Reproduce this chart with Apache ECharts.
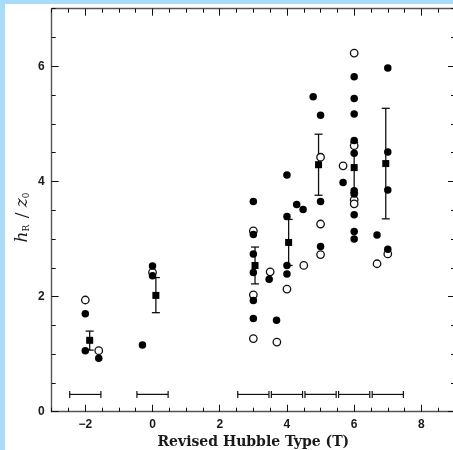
<!DOCTYPE html>
<html>
<head>
<meta charset="utf-8">
<script src="https://cdn.jsdelivr.net/npm/echarts@6/dist/echarts.min.js"></script>
<style>
html,body{margin:0;padding:0;width:453px;height:450px;overflow:hidden;background:#a9dcf8;}
#wrap{position:absolute;left:5px;top:4px;width:460px;height:460px;background:#fff;}
#chart{width:460px;height:460px;}
</style>
</head>
<body>
<div id="wrap"><div id="chart"></div></div>
<script>
// Individual galaxies: filled symbols
const filledX = [-2, -2, -1.6, -0.3, 0, 0, 3, 3, 3, 3, 3, 3, 3.47, 3.69, 4, 4, 4, 4, 4.29, 4.48, 4.78, 5, 5, 5, 6, 6, 6, 6, 6, 6, 6, 6, 6, 6, 5.67, 7, 7, 7, 7, 6.68];
const filledY = [1.70, 1.06, 0.93, 1.16, 2.53, 2.36, 3.65, 3.08, 2.74, 2.42, 1.93, 1.62, 2.30, 1.59, 4.11, 3.39, 2.54, 2.39, 3.60, 3.51, 5.47, 5.15, 3.65, 2.87, 5.82, 5.44, 5.17, 4.71, 4.49, 3.84, 3.78, 3.42, 3.13, 3.00, 3.98, 5.97, 4.51, 3.85, 2.82, 3.07];
// Individual galaxies: open symbols
const openX = [-2, -1.6, 0, 3, 3, 3, 3.5, 3.7, 4, 4.5, 5, 5, 5, 6, 6, 6, 6, 5.67, 7, 6.68];
const openY = [1.94, 1.06, 2.42, 3.14, 2.03, 1.27, 2.43, 1.21, 2.13, 2.54, 4.42, 3.26, 2.73, 6.23, 4.62, 3.68, 3.61, 4.27, 2.74, 2.57];
// Bin means with error bars
const meanX = [-1.87, 0.10, 3.05, 4.05, 4.94, 6.00, 6.94];
const meanY = [1.24, 2.02, 2.54, 2.94, 4.29, 4.24, 4.31];
const errLow = [1.07, 1.72, 2.22, 2.54, 3.76, 3.80, 3.35];
const errHigh = [1.40, 2.33, 2.86, 3.34, 4.82, 4.68, 5.27];
// Bin extents (horizontal bars near bottom)
const binStart = [-2.5, -0.5, 2.5, 3.5, 4.5, 5.5, 6.5];
const binEnd = [-1.5, 0.5, 3.5, 4.5, 5.5, 6.5, 7.5];
const binY = [0.3, 0.3, 0.3, 0.3, 0.3, 0.3, 0.3];
// Axes
const xMin = -3, xMax = 9;
const yMin = 0, yMax = 7;
const xMajor = [-2, 0, 2, 4, 6, 8];
const yMajor = [0, 2, 4, 6];

const chart = echarts.init(document.getElementById('chart'), null, {renderer: 'canvas'});

const axisColor = '#555';
const tickColor = '#111';
const labelFont = {color: '#1a1a1a', fontFamily: 'Liberation Sans', fontWeight: 'bold', fontSize: 12};

function xAx(pos, major, showLabel, showLine) {
  const a = {
    type: 'value', min: xMin, max: xMax, position: pos,
    splitLine: {show: false},
    axisLine: {show: showLine, onZero: false, lineStyle: {color: axisColor, width: 1.4}},
    axisTick: {show: true, inside: true, length: major ? 7 : 4, lineStyle: {color: tickColor, width: 1}},
    axisLabel: {show: false}
  };
  if (major) {
    a.axisTick.customValues = xMajor;
    a.axisLabel = Object.assign({show: showLabel, customValues: xMajor, margin: 7,
      formatter: v => String(v).replace('-', '\u2212')}, labelFont);
  } else {
    a.interval = 0.5;
  }
  return a;
}
function yAx(pos, major, showLabel, showLine) {
  const a = {
    type: 'value', min: yMin, max: yMax, position: pos,
    splitLine: {show: false},
    axisLine: {show: showLine, onZero: false, lineStyle: {color: axisColor, width: 1.4}},
    axisTick: {show: true, inside: true, length: major ? 7 : 4, lineStyle: {color: tickColor, width: 1}},
    axisLabel: {show: false}
  };
  if (major) {
    a.axisTick.customValues = yMajor;
    a.axisLabel = Object.assign({show: showLabel, customValues: yMajor, margin: 7}, labelFont);
  } else {
    a.interval = 0.5;
  }
  return a;
}

const xAxes = [xAx('bottom', true, true, true), xAx('bottom', false, false, false),
               xAx('top', true, false, true), xAx('top', false, false, false)];
xAxes[0].name = 'Revised Hubble Type (T)';
xAxes[0].nameLocation = 'middle';
xAxes[0].nameGap = 22;
xAxes[0].nameTextStyle = {fontFamily: 'DejaVu Serif', fontWeight: 'bold', fontSize: 14, color: '#1a1a1a'};

const yAxes = [yAx('left', true, true, true), yAx('left', false, false, false),
               yAx('right', true, false, true), yAx('right', false, false, false)];

const filledData = filledX.map((x, i) => [x, filledY[i]]);
const openData = openX.map((x, i) => [x, openY[i]]);
const meanData = meanX.map((x, i) => [x, meanY[i]]);
const errData = meanX.map((x, i) => [x, errLow[i], errHigh[i]]);
const binData = binStart.map((s, i) => [s, binEnd[i], binY[i]]);

const option = {
  animation: false,
  backgroundColor: '#fff',
  grid: {left: 46.7, top: 4.7, right: 10, bottom: 52.3, containLabel: false},
  xAxis: xAxes,
  yAxis: yAxes,
  graphic: [{
    type: 'text',
    x: 18, y: 213,
    rotation: Math.PI / 2,
    style: {
      text: '{i|h}{s|R}{n| / }{i|z}{s|0}',
      align: 'center', verticalAlign: 'middle',
      rich: {
        i: {fontFamily: 'DejaVu Serif', fontStyle: 'italic', fontSize: 17, fill: '#1a1a1a'},
        s: {fontFamily: 'DejaVu Serif', fontSize: 9, fill: '#1a1a1a', verticalAlign: 'bottom', padding: [8, 1, 0, 0]},
        n: {fontFamily: 'DejaVu Serif', fontSize: 17, fill: '#1a1a1a'}
      }
    }
  }],
  series: [
    {
      type: 'custom', xAxisIndex: 0, yAxisIndex: 0, z: 3,
      data: binData,
      renderItem: (params, api) => {
        const p1 = api.coord([api.value(0), api.value(2)]);
        const p2 = api.coord([api.value(1), api.value(2)]);
        const h = 3.5;
        const st = {stroke: '#111', lineWidth: 1.2};
        return {type: 'group', children: [
          {type: 'line', shape: {x1: p1[0] + 1.2, y1: p1[1], x2: p2[0] - 1.2, y2: p2[1]}, style: st},
          {type: 'line', shape: {x1: p1[0] + 1.2, y1: p1[1] - h, x2: p1[0] + 1.2, y2: p1[1] + h}, style: st},
          {type: 'line', shape: {x1: p2[0] - 1.2, y1: p2[1] - h, x2: p2[0] - 1.2, y2: p2[1] + h}, style: st}
        ]};
      }
    },
    {
      type: 'custom', xAxisIndex: 0, yAxisIndex: 0, z: 3,
      data: errData,
      renderItem: (params, api) => {
        const lo = api.coord([api.value(0), api.value(1)]);
        const hi = api.coord([api.value(0), api.value(2)]);
        const w = 4;
        const st = {stroke: '#111', lineWidth: 1.3};
        return {type: 'group', children: [
          {type: 'line', shape: {x1: lo[0], y1: lo[1], x2: hi[0], y2: hi[1]}, style: st},
          {type: 'line', shape: {x1: lo[0] - w, y1: lo[1], x2: lo[0] + w, y2: lo[1]}, style: st},
          {type: 'line', shape: {x1: hi[0] - w, y1: hi[1], x2: hi[0] + w, y2: hi[1]}, style: st}
        ]};
      }
    },
    {
      type: 'scatter', xAxisIndex: 0, yAxisIndex: 0, z: 4,
      data: openData, symbol: 'circle', symbolSize: 7.5,
      itemStyle: {color: '#fff', borderColor: '#111', borderWidth: 1.3, opacity: 1}
    },
    {
      type: 'scatter', xAxisIndex: 0, yAxisIndex: 0, z: 5,
      data: filledData, symbol: 'circle', symbolSize: 7.5,
      itemStyle: {color: '#000', opacity: 1}
    },
    {
      type: 'scatter', xAxisIndex: 0, yAxisIndex: 0, z: 6,
      data: meanData, symbol: 'rect', symbolSize: 7,
      itemStyle: {color: '#000', opacity: 1}
    }
  ]
};
chart.setOption(option);
</script>
</body>
</html>
